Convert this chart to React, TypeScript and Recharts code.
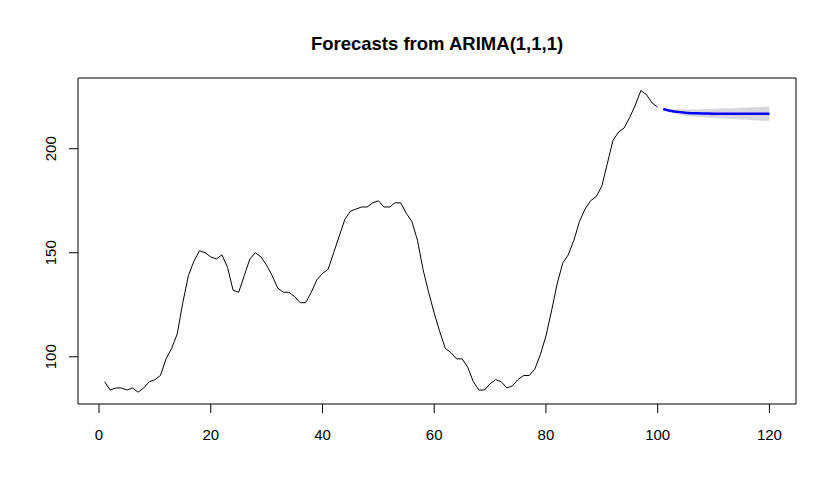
import React from 'react';
import { ComposedChart, Line, Area, XAxis, YAxis, ReferenceArea } from 'recharts';

// observed series, t = 1..100
const observed = [
  88, 84, 85, 85, 84, 85, 83, 85, 88, 89,
  91, 99, 104, 111, 126, 139, 146, 151, 150, 148,
  147, 149, 143, 132, 131, 139, 147, 150, 148, 144,
  139, 133, 131, 131, 129, 126, 126, 131, 137, 140,
  142, 150, 158, 166, 170, 171, 172, 172, 174, 175,
  172, 172, 174, 174, 169, 165, 156, 142, 131, 121,
  112, 104, 102, 99, 99, 95, 88, 84, 84, 87,
  89, 88, 85, 86, 89, 91, 91, 94, 101, 110,
  122, 135, 145, 149, 156, 165, 171, 175, 177, 182,
  193, 204, 208, 210, 215, 221, 228, 226, 222, 220,
];

// forecast, t = 101..120
const forecastMean = [
  219.1, 218.4, 217.9, 217.6, 217.3, 217.1, 217.0, 216.9, 216.9, 216.8,
  216.8, 216.8, 216.8, 216.8, 216.8, 216.8, 216.8, 216.8, 216.8, 216.8,
];
const forecastLower = [
  218.7, 217.7, 216.9, 216.3, 215.9, 215.6, 215.4, 215.2, 215.0, 214.8,
  214.6, 214.5, 214.3, 214.2, 214.0, 213.9, 213.7, 213.6, 213.4, 213.3,
];
const forecastUpper = [
  219.5, 219.1, 218.9, 218.9, 218.8, 218.8, 218.9, 219.0, 219.1, 219.2,
  219.3, 219.4, 219.5, 219.6, 219.7, 219.8, 219.9, 220.0, 220.2, 220.3,
];

const xTicks = [0, 20, 40, 60, 80, 100, 120];
const yTicks = [100, 150, 200];

const X_DOMAIN: [number, number] = [-3.76, 124.76];
const Y_DOMAIN: [number, number] = [77.3, 234.0];

const rows = [
  ...observed.map((v, i) => ({ t: i + 1, obs: v })),
  ...forecastMean.map((v, i) => ({
    t: i + 101,
    fc: v,
    band: [forecastLower[i], forecastUpper[i]],
  })),
];

const FONT = '"Liberation Sans", Arial, Helvetica, sans-serif';

function XTick({ x, payload }: any) {
  return (
    <text x={x} y={440} textAnchor="middle" fontFamily={FONT} fontSize={15} fill="#000">
      {payload.value}
    </text>
  );
}

function YTick({ y, payload }: any) {
  return (
    <text
      transform={`translate(56, ${y}) rotate(-90)`}
      textAnchor="middle"
      fontFamily={FONT}
      fontSize={15}
      fill="#000"
    >
      {payload.value}
    </text>
  );
}

export default function App() {
  return (
    <div style={{ position: 'absolute', left: 0, top: 0, width: 837, height: 503, background: '#fff' }}>
      <div
        style={{
          position: 'absolute',
          left: 0,
          width: 874,
          top: 35,
          textAlign: 'center',
          fontFamily: FONT,
          fontWeight: 'bold',
          fontSize: 18.5,
          lineHeight: 1,
        }}
      >
        Forecasts from ARIMA(1,1,1)
      </div>
      <ComposedChart width={837} height={503} data={rows} margin={{ top: 78, right: 41, bottom: 0, left: 0 }}>
        <XAxis
          dataKey="t"
          type="number"
          domain={X_DOMAIN}
          ticks={xTicks}
          allowDataOverflow
          axisLine={false}
          tickSize={9}
          tickLine={{ stroke: '#000' }}
          tick={<XTick />}
          height={99}
        />
        <YAxis
          type="number"
          domain={Y_DOMAIN}
          ticks={yTicks}
          allowDataOverflow
          axisLine={false}
          tickSize={9}
          tickLine={{ stroke: '#000' }}
          tick={<YTick />}
          width={78}
        />
        <Area
          dataKey="band"
          type="linear"
          stroke="none"
          fill="#d6d6dc"
          fillOpacity={1}
          isAnimationActive={false}
          connectNulls={false}
        />
        <Line
          dataKey="obs"
          type="linear"
          stroke="#000"
          strokeWidth={1}
          dot={false}
          isAnimationActive={false}
          connectNulls={false}
        />
        <Line
          dataKey="fc"
          type="linear"
          stroke="#0000ff"
          strokeWidth={2.5}
          dot={false}
          isAnimationActive={false}
          connectNulls={false}
        />
        <ReferenceArea
          x1={X_DOMAIN[0]}
          x2={X_DOMAIN[1]}
          y1={Y_DOMAIN[0]}
          y2={Y_DOMAIN[1]}
          fill="none"
          stroke="#000"
          strokeWidth={1}
          ifOverflow="visible"
        />
      </ComposedChart>
    </div>
  );
}
